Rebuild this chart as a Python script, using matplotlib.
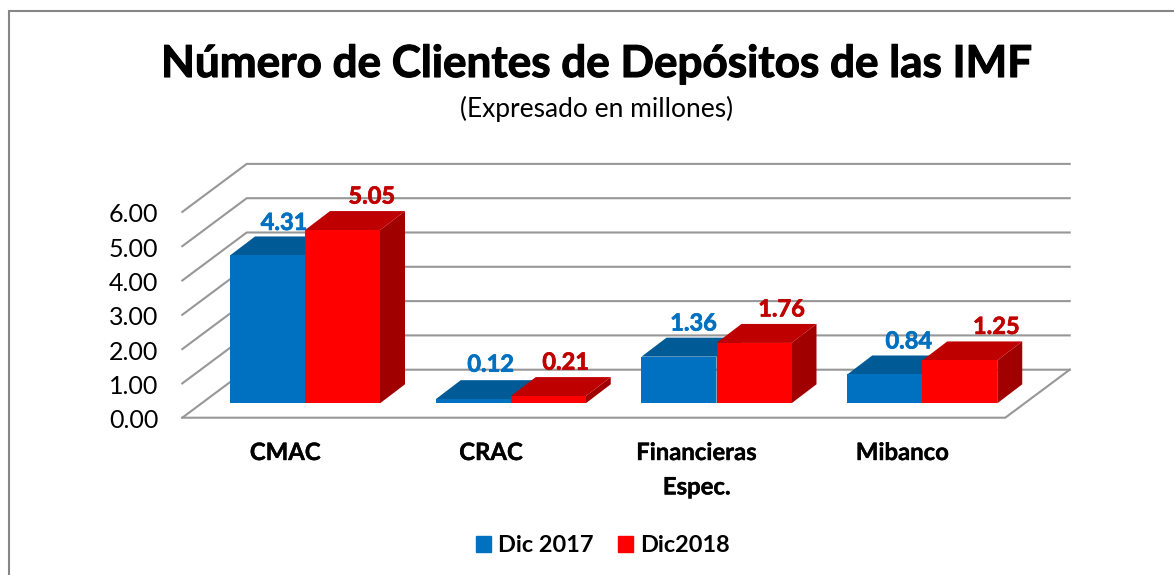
import matplotlib
matplotlib.use("Agg")
import matplotlib.pyplot as plt
import matplotlib.patches as mpatches
import matplotlib.patheffects as pe
from matplotlib.lines import Line2D

plt.rcParams['font.family'] = ['Lato', 'DejaVu Sans']

categories = ["CMAC", "CRAC", "Financieras\nEspec.", "Mibanco"]
dic_2017 = [4.31, 0.12, 1.36, 0.84]
dic_2018 = [5.05, 0.21, 1.76, 1.25]
y_ticks = [0, 1, 2, 3, 4, 5, 6]

# label offsets from the top of each bar, pixels (dragged by hand in the original)
offsets_2017 = [(16.5, 33), (17.5, 35), (14.5, 33.6), (24, 33.5)]
offsets_2018 = [(29.5, 34), (17.5, 34), (27.5, 34), (36.7, 34)]

W, H = 1174, 575
CAT_PX = 205.75   # pixels per category
VAL_PX = 34.3     # pixels per unit
X0_PX, Y0_PX = 182.3, 417.7

# oblique depth of the floor and of the bars, in data units
FLOOR_DX, FLOOR_DY = 64.4 / CAT_PX, 48 / VAL_PX
BAR_DX, BAR_DY = 25 / CAT_PX, 19 / VAL_PX
BAR_X0, BAR_Y0 = 19.3 / CAT_PX, 14.4 / VAL_PX
BAR_W = 75 / CAT_PX
GAP = 28.4 / CAT_PX

GRID = "#979797"
BLUE = ("#0070C0", "#005A96", "#004A7C")
RED = ("#FF0000", "#BF0000", "#A00000")
BOLDER = [pe.withStroke(linewidth=0.3, foreground="black")]


def draw_bar(ax, x, val, colors):
    x0 = x + BAR_X0
    x1 = x0 + BAR_W
    y0 = BAR_Y0
    y1 = y0 + val
    front, top, side = colors
    ax.add_patch(mpatches.Polygon(
        [(x1, y0), (x1 + BAR_DX, y0 + BAR_DY), (x1 + BAR_DX, y1 + BAR_DY), (x1, y1)],
        color=side, lw=0, zorder=3))
    ax.add_patch(mpatches.Polygon(
        [(x0, y1), (x1, y1), (x1 + BAR_DX, y1 + BAR_DY), (x0 + BAR_DX, y1 + BAR_DY)],
        color=top, lw=0, zorder=3))
    ax.add_patch(mpatches.Rectangle((x0, y0), BAR_W, val, color=front, lw=0, zorder=3))
    return (x0 + x1) / 2, y1


fig = plt.figure(figsize=(W / 100, H / 100), dpi=100)
ax = fig.add_axes([0, 0, 1, 1])
ax.set_xlim(-X0_PX / CAT_PX, (W - X0_PX) / CAT_PX)
ax.set_ylim(-(H - Y0_PX) / VAL_PX, Y0_PX / VAL_PX)
ax.axis("off")

n = len(categories)

# walls and floor
for t in y_ticks:
    ax.plot([0, FLOOR_DX, n + FLOOR_DX], [t, t + FLOOR_DY, t + FLOOR_DY],
            color=GRID, lw=1.5, zorder=1, solid_joinstyle="miter")
    ax.text(-24 / CAT_PX, t - 3 / VAL_PX, "{:.2f}".format(t), ha="right", va="center", fontsize=18, color="black")
ax.plot([0, n, n + FLOOR_DX], [0, 0, FLOOR_DY], color=GRID, lw=1.5, zorder=1, solid_joinstyle="miter")

# bars
for i in range(n):
    x = i + GAP
    for xoff, val, colors, off, lab_color in [(0, dic_2017[i], BLUE, offsets_2017[i], "#0070C0"),
                                              (BAR_W, dic_2018[i], RED, offsets_2018[i], "#C00000")]:
        cx, top = draw_bar(ax, x + xoff, val, colors)
        ax.annotate("{:.2f}".format(val), (cx, top), xytext=off, textcoords="offset pixels",
                    ha="center", va="center", fontsize=17, fontweight="bold", color=lab_color, zorder=5,
                    path_effects=[pe.withStroke(linewidth=0.5, foreground=lab_color)])
    # first line of every category label sits at the same height
    ax.text(i + 0.5, -(441 - Y0_PX) / VAL_PX, categories[i], ha="center", va="top",
            fontsize=17.2, fontweight="bold", color="black", linespacing=1.6, path_effects=BOLDER)

# chart border, only left and top are inside the picture
fig.add_artist(Line2D([8.5 / W, 8.5 / W, 1], [0, 1 - 11 / H, 1 - 11 / H], color="#868686", lw=1.5,
                      solid_joinstyle="miter", transform=fig.transFigure))

fig.text(596 / W, 1 - 64 / H, "Número de Clientes de Depósitos de las IMF", ha="center", va="center",
         fontsize=31.7, fontweight="bold", color="black", path_effects=[pe.withStroke(linewidth=0.8, foreground="black")])
fig.text(597 / W, 1 - 109 / H, "(Expresado en millones)", ha="center", va="center", fontsize=19, color="black")

handles = [mpatches.Patch(color=BLUE[0], label="Dic 2017"), mpatches.Patch(color=RED[0], label="Dic2018")]
fig.legend(handles=handles, loc="center", bbox_to_anchor=(603 / W, 1 - 546 / H), ncol=2, frameon=False,
           prop={"size": 16.9, "weight": "bold"}, handlelength=0.64, handleheight=0.64,
           handletextpad=0.3, columnspacing=1.03)

fig.savefig("out.png", dpi=100)
